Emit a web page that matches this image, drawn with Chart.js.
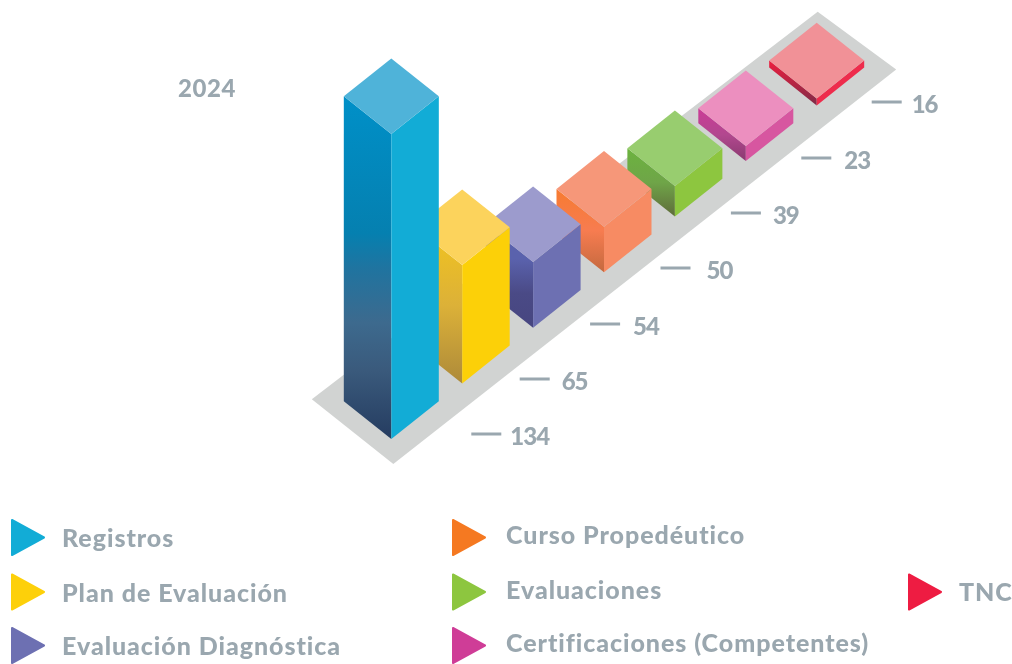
<!DOCTYPE html>
<html>
<head>
<meta charset="utf-8">
<script src="https://cdn.jsdelivr.net/npm/chart.js@4"></script>
<style>
  html, body { margin: 0; padding: 0; background: #fff; overflow: hidden; }
  #box { width: 1012px; height: 664px; }
</style>
</head>
<body>
<div id="box"><canvas id="chart"></canvas></div>
<script>
let title = '2024';
let categories = ['Registros', 'Plan de Evaluación', 'Evaluación Diagnóstica', 'Curso Propedéutico', 'Evaluaciones', 'Certificaciones (Competentes)', 'TNC'];
let values = [134, 65, 54, 50, 39, 23, 16];
// the infographic is not to scale, so bar heights are read off the picture
let heights = [305, 118.4, 65.8, 45.5, 30.6, 15, 7];

let sideColors = ['#12acd6', '#fcd008', '#6d70b2', '#f78b63', '#8dc63f', '#d756a0', '#ee2c4c'];
let topColors = ['#4fb3d9', '#fcd35c', '#9c9bcd', '#f69779', '#98cd6f', '#ec8fbf', '#f19197'];
let legendColors = ['#12acd6', '#fdd00a', '#6d70b2', '#f57921', '#8dc63f', '#cf3d97', '#ee1c42'];
let shadeColors = [
  ['#0090c8', '#0580b0', '#1f74a0', '#3d6a8e', '#3a5a7c', '#253c60'],
  ['#f2c41e', '#dcb138', '#ad8a3a'],
  ['#5a62ad', '#5a62ad', '#4a4a86', '#474680'],
  ['#f77b30', '#f77c50', '#c4693f'],
  ['#6cb33f', '#6fa548', '#5f6b3b'],
  ['#cc3b97', '#b2488f', '#8a3a70'],
  ['#ee1d3e', '#7e2c48']
];

// each bar stands a bit higher on the tilted platform than the one before
let groundRise = 55.6;
let depth = 37.8;
let grey = '#9aa7af';
let font = '900 25px Lato';
let numberFont = '900 24px Lato';
let numberGaps = [39, 42, 43, 46, 42, 43, 40];

let legendSlots = [
  { x: 11, y: 537.5, tx: 62, ty: 539 },
  { x: 11, y: 592, tx: 62, ty: 594 },
  { x: 11, y: 645.5, tx: 62, ty: 647 },
  { x: 452, y: 537.5, tx: 506, ty: 536 },
  { x: 452, y: 592, tx: 506, ty: 591 },
  { x: 452, y: 645.5, tx: 506, ty: 644 },
  { x: 908, y: 592, tx: 959, ty: 593 }
];

function poly(ctx, pts, fill) {
  ctx.beginPath();
  ctx.moveTo(pts[0][0], pts[0][1]);
  for (let i = 1; i < pts.length; i++) {
    ctx.lineTo(pts[i][0], pts[i][1]);
  }
  ctx.closePath();
  ctx.fillStyle = fill;
  ctx.fill();
}

class IsoBarController extends Chart.BarController {
  draw() {
    let ctx = this.chart.ctx;
    let bars = this.getMeta().data;
    let first = bars[0];
    let last = bars[bars.length - 1];
    let half = first.width / 2;

    poly(ctx, [
      [first.x - half - 32, first.base - depth - 2],
      [first.x + 2, first.base + 25],
      [last.x + half + 32, last.base - depth + 2],
      [last.x + 1, last.base - depth * 2 - 18]
    ], '#d1d3d2');

    for (let i = bars.length - 1; i >= 0; i--) {
      let b = bars[i];
      let left = b.x - half;
      let right = b.x + half;
      let shade = ctx.createLinearGradient(0, b.y - depth, 0, b.base);
      shadeColors[i].forEach(function (c, k, all) {
        // the tall bar has a denser ramp around its middle
        let at = all.length === 6 ? [0, 0.4, 0.5, 0.66, 0.8, 1][k] : k / (all.length - 1);
        shade.addColorStop(at, c);
      });
      poly(ctx, [[left, b.y - depth], [b.x, b.y], [b.x, b.base], [left, b.base - depth]], shade);
      poly(ctx, [[right, b.y - depth], [b.x, b.y], [b.x, b.base], [right, b.base - depth]], sideColors[i]);
      poly(ctx, [[left, b.y - depth], [b.x, b.y - depth * 2], [right, b.y - depth], [b.x, b.y]], topColors[i]);
    }
  }
}
IsoBarController.id = 'isoBar';
IsoBarController.defaults = Chart.BarController.defaults;
IsoBarController.overrides = Chart.BarController.overrides;
Chart.register(IsoBarController);

let labelsPlugin = {
  id: 'isoLabels',
  afterDatasetsDraw: function (chart) {
    let ctx = chart.ctx;
    let bars = chart.getDatasetMeta(0).data;
    ctx.save();
    ctx.textBaseline = 'middle';
    ctx.textAlign = 'left';
    ctx.fillStyle = grey;

    ctx.font = numberFont;
    ctx.letterSpacing = '0.6px';
    ctx.fillText(title, 178, 89);

    ctx.letterSpacing = '-1px';
    for (let i = 0; i < bars.length; i++) {
      let x = bars[i].x + (i === 0 ? 80 : 58 - i * 0.5);
      let y = Math.round(bars[i].base - 4.8 + i * 0.3);
      ctx.fillRect(x, y - 1.5, 30, 3);
      ctx.fillText(String(values[i]), x + numberGaps[i], y + 3);
    }

    ctx.font = font;
    ctx.letterSpacing = '0.95px';
    for (let i = 0; i < categories.length; i++) {
      let s = legendSlots[i];
      ctx.beginPath();
      ctx.moveTo(s.x + 1, s.y - 17.5);
      ctx.lineTo(s.x + 33, s.y);
      ctx.lineTo(s.x + 1, s.y + 17.5);
      ctx.closePath();
      ctx.fillStyle = legendColors[i];
      ctx.strokeStyle = legendColors[i];
      ctx.lineWidth = 2;
      ctx.lineJoin = 'round';
      ctx.fill();
      ctx.stroke();
      ctx.fillStyle = grey;
      ctx.fillText(categories[i], s.tx, s.ty);
    }
    ctx.restore();
  }
};

let options = {
  type: 'isoBar',
  data: {
    labels: categories,
    datasets: [
      {
        label: title,
        data: heights.map(function (h, i) {
          return [groundRise * i, groundRise * i + h];
        }),
        barThickness: 95,
        clip: false,
      },
    ],
  },
  options: {
    responsive: true,
    maintainAspectRatio: false,
    animation: false,
    layout: {
      padding: { left: 355.85, right: 159.85, top: 0, bottom: 225 },
    },
    scales: {
      x: { type: 'category', display: false, offset: true },
      y: { type: 'linear', display: false, min: 0, max: 439 },
    },
    plugins: {
      legend: { display: false },
      tooltip: { enabled: false },
    },
  },
  plugins: [labelsPlugin],
};

let chart = new Chart(document.querySelector('#chart'), options);
</script>
</body>
</html>
